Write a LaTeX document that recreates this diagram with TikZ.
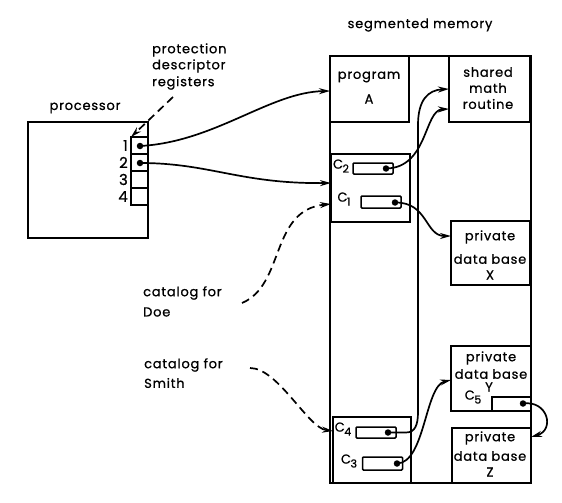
\documentclass[tikz,border=0pt]{standalone}
\usepackage{fontspec}
\setmainfont{Poppins}[LetterSpace=6, FakeBold=0.8]
\usetikzlibrary{arrows.meta}
\newcommand\Csub[1]{C\kern-0.5pt\raisebox{-0.55ex}{\fontsize{11}{11}\selectfont #1}}
\tikzset{
  box/.style={draw, line width=1.7pt, minimum width=#1, inner sep=0pt, outer sep=0pt},
  fld/.style={draw, line width=1.5pt, rounded corners=1pt, minimum width=40pt, minimum height=11pt, inner sep=0pt, outer sep=0pt},
  txt/.style={font=\fontsize{13}{15}\selectfont, inner sep=0pt},
  ptr/.style={line width=1.7pt, -{Stealth[length=11pt,width=6pt]}},
  dptr/.style={line width=1.7pt, dash pattern=on 8pt off 5pt, -{Stealth[length=11pt,width=6pt]}},
  dot/.style={circle, fill, inner sep=0pt, minimum size=6.5pt}
}
\begin{document}
\begin{tikzpicture}[x=1pt,y=-1pt]
\useasboundingbox (0,0) rectangle (562,503);
% processor
\node[box=120pt, minimum height=116pt] (proc) at (88,180) {};
\foreach \i/\y in {1/145.5,2/162.5,3/179.5,4/196.5}{
  \node[box=17pt, minimum height=17pt] (r\i) at (139.5,\y) {};
  \node[txt, font=\fontsize{15}{15}\selectfont, anchor=east] (n\i) at (128,\y) {\i};
}
\node[dot] (d1) at (140,146) {};
\node[dot] (d2) at (140,163) {};
\node[txt] (tproc) at (85,108) {processor};
\node[txt, anchor=west] (tp1) at (152,50) {protection};
\node[txt, anchor=west] (tp2) at (152,66) {descriptor};
\node[txt, anchor=west] (tp3) at (152,83) {registers};
\coordinate (pdrend) at (173,97);
% memory
\node[txt] (tmem) at (420,25) {segmented memory};
\node[box=201pt, minimum height=427pt] (mem) at (430.5,269.5) {};
\node[box=79pt, minimum height=66pt] (progA) at (369.5,89) {};
\node[txt] (tpa1) at (369,77) {program};
\node[txt] (tpa2) at (369,99) {A};
\node[box=81pt, minimum height=66pt] (shared) at (489.5,89) {};
\node[txt] (ts1) at (488,72) {shared};
\node[txt] (ts2) at (488,88) {math};
\node[txt] (ts3) at (488,104) {routine};
\node[box=79pt, minimum height=68pt] (cat1) at (370.5,188) {};
\node[fld] (c2) at (373,168.5) {};
\node[fld, minimum height=12pt] (c1) at (381,202) {};
\node[txt] (lc2) at (341,166) {\Csub{2}};
\node[txt] (lc1) at (344,199) {\Csub{1}};
\node[dot] (dc2) at (386,168.5) {};
\node[dot] (dc1) at (395,202.5) {};
\node[box=79pt, minimum height=64pt] (dbX) at (490.5,253) {};
\node[txt] (tx1) at (490,237) {private};
\node[txt] (tx2) at (490,259) {data base};
\node[txt] (tx3) at (490,275) {X};
\node[box=80pt, minimum height=65pt] (dbY) at (491,378.5) {};
\node[txt] (ty1) at (491,358) {private};
\node[txt] (ty2) at (491,374) {data base};
\node[txt] (ty3) at (489,387) {Y};
\node[draw, line width=1.5pt, minimum width=39pt, minimum height=14pt, inner sep=0pt, outer sep=0pt] (c5) at (511.5,404) {};
\node[txt] (lc5) at (473,397) {\Csub{5}};
\node[dot] (dc5) at (523,403.5) {};
\node[box=79pt, minimum height=55pt] (dbZ) at (491.5,455.5) {};
\node[txt] (tz1) at (490,438) {private};
\node[txt] (tz2) at (490,456) {data base};
\node[txt] (tz3) at (490,472) {Z};
\node[box=78pt, minimum height=66pt] (cat2) at (372,450) {};
\node[fld] (c4) at (376,432.5) {};
\node[fld, minimum height=13pt] (c3) at (382.5,463.5) {};
\node[txt] (lc4) at (343,429) {\Csub{4}};
\node[txt] (lc3) at (349,461) {\Csub{3}};
\node[dot] (dc4) at (388,432.5) {};
\node[dot] (dc3) at (397,463.5) {};
% catalogs text
\node[txt, anchor=west] (tdoe1) at (143,293) {catalog for};
\node[txt, anchor=west] (tdoe2) at (143,312) {Doe};
\node[txt, anchor=west] (tsm1) at (144,365) {catalog for};
\node[txt, anchor=west] (tsm2) at (144,383) {Smith};
\coordinate (doestart) at (242,303);
\coordinate (smstart) at (250,368);
% connectors
\draw[ptr] (d1.center) .. controls (215,142) and (270,92) .. (progA.west |- 0,91);
\draw[ptr] (d2.center) .. controls (210,163) and (240,184) .. (cat1.west |- 0,183);
\draw[ptr] (dc2.center) .. controls (428,168) and (424,110) .. (shared.west |- 0,109);
\draw[ptr] (dc4.center) -- (406,432.5) .. controls (415,432.5) and (418,425) .. (418,412) -- (418,125) .. controls (418,100) and (428,90) .. (shared.west |- 0,89);
\draw[ptr] (dc1.center) .. controls (428,202) and (425,236) .. (dbX.west |- 0,236);
\draw[ptr] (dc3.center) .. controls (425,463) and (425,386) .. (dbY.west |- 0,380);
\draw[ptr] (dc5.center) .. controls (548,400) and (555,430) .. (dbZ.east |- 0,437);
\draw[dptr] (pdrend) -- (r1.north west);
\draw[dptr] (doestart) .. controls (285,285) and (270,210) .. (cat1.west |- 0,204);
\draw[dptr] (smstart) .. controls (278,368) and (308,428) .. (cat2.west |- 0,431);
\end{tikzpicture}
\end{document}
